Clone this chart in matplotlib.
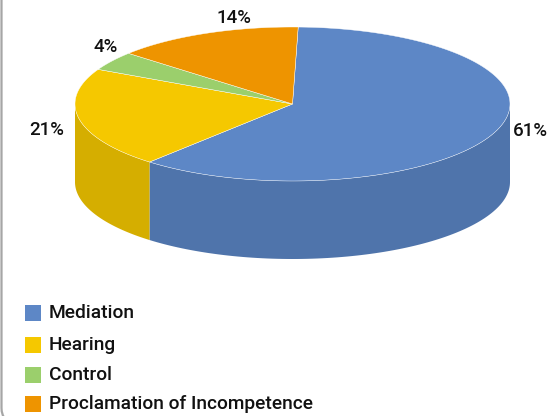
import numpy as np
import matplotlib.pyplot as plt
from matplotlib.patches import Polygon, FancyBboxPatch, Rectangle

# Data
labels = ['Mediation', 'Hearing', 'Control', 'Proclamation of Incompetence']
values = [61, 21, 4, 14]
top_colors = ['#5D87C6', '#F5C800', '#9BCF6C', '#EE9400']
side_colors = ['#4F74AB', '#D5AE00', '#86B45C', '#CC8000']

plt.rcParams['font.family'] = ['Roboto', 'DejaVu Sans']

fig = plt.figure(figsize=(5.58, 4.16), dpi=100)
ax = fig.add_axes([0, 0, 1, 1])
ax.set_xlim(0, 558)
ax.set_ylim(416, 0)
ax.axis('off')

# rounded frame, only left side visible
ax.add_patch(FancyBboxPatch((1.5, -30), 600, 452, boxstyle='round,pad=0,rounding_size=14',
                            fc='white', ec='#A6A6A6', lw=1.6, zorder=0))

# pie geometry (pixel space)
cx, cy = 292.5, 104
a, b = 217.5, 77
depth = 78
start = 88.5

def pt(theta, dz=0):
    t = np.radians(theta)
    return cx + a * np.cos(t), cy - b * np.sin(t) + dz

fracs = np.array(values) / sum(values)
angles = start - 360 * np.concatenate([[0], np.cumsum(fracs)])

# sides (front half only: angles between -180 and 0)
for i in range(len(values)):
    lo, hi = angles[i + 1], angles[i]
    for shift in (0, -360, 360):
        l, h = max(lo + shift, -180), min(hi + shift, 0)
        if h > l:
            th = np.linspace(l, h, 100)
            top = [pt(t) for t in th]
            bot = [pt(t, depth) for t in th[::-1]]
            ax.add_patch(Polygon(top + bot, closed=True, fc=side_colors[i], ec='none', zorder=2))

# tops
for i in range(len(values)):
    th = np.linspace(angles[i], angles[i + 1], 200)
    poly = [(cx, cy)] + [pt(t) for t in th]
    ax.add_patch(Polygon(poly, closed=True, fc=top_colors[i], ec='white', lw=0.3, zorder=3))

# percent labels
label_pos = [(530, 131), (47, 130), (106, 47), (234, 18)]
for v, (x, y) in zip(values, label_pos):
    ax.text(x, y, f'{v}%', ha='center', va='center', fontsize=13.5, fontweight='medium',
            color='#111111', zorder=5)

# legend
rows = [313, 345, 375, 404]
for lab, col, y in zip(labels, top_colors, rows):
    ax.add_patch(Rectangle((25, y - 8), 16, 16, fc=col, ec='none', zorder=5))
    ax.text(49, y, lab, ha='left', va='center', fontsize=13.8, fontweight='medium',
            color='#111111', zorder=5)

fig.savefig('out.png', dpi=100)
